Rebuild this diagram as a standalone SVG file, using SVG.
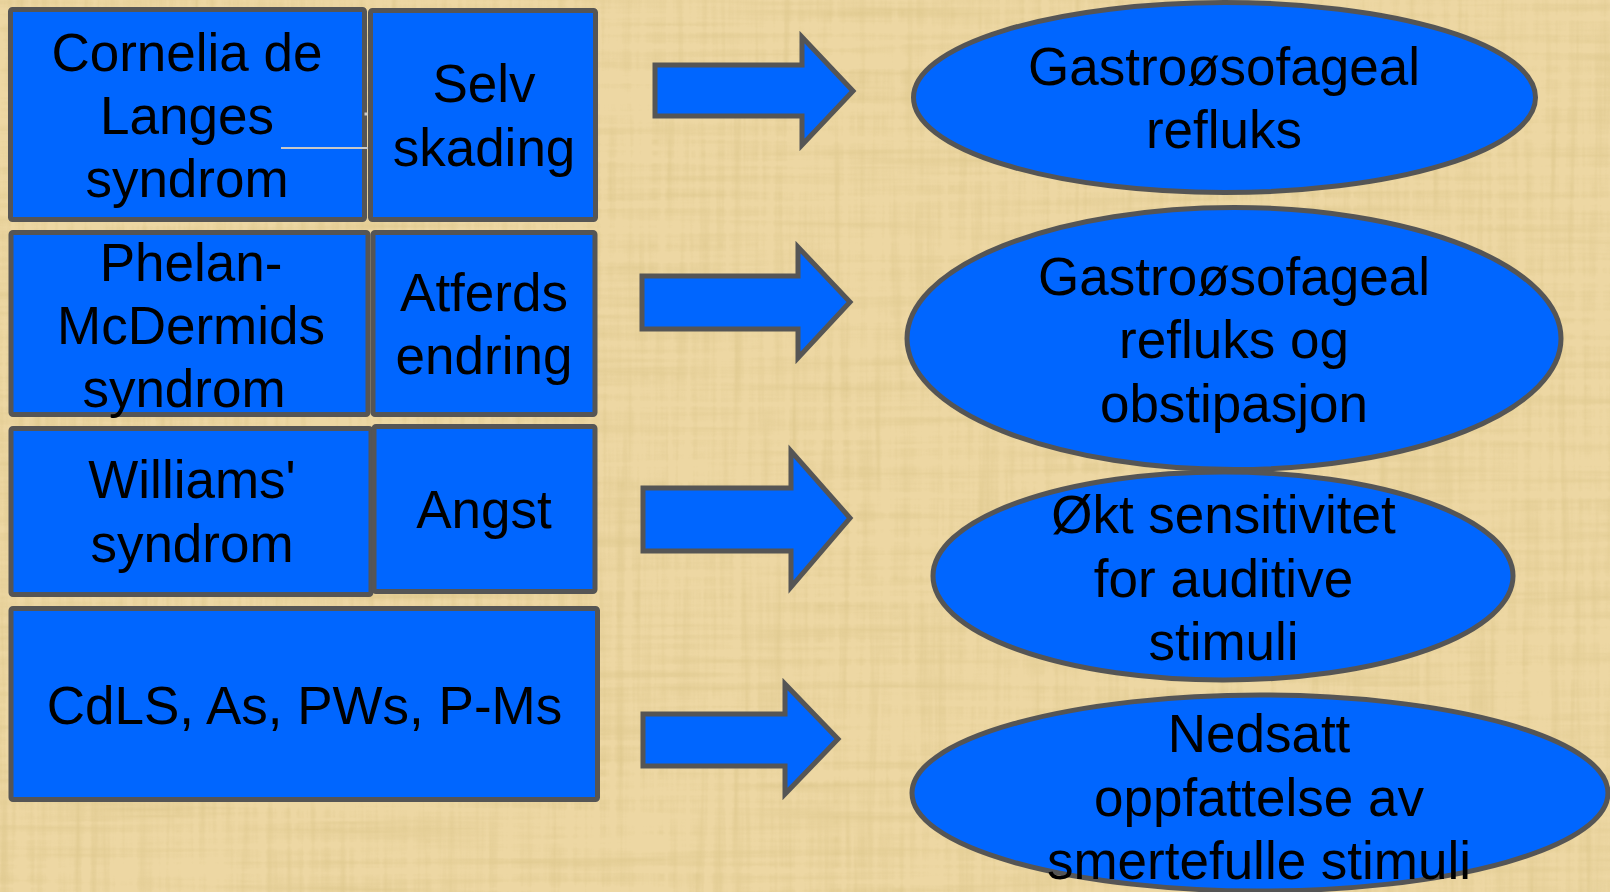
<svg xmlns="http://www.w3.org/2000/svg" width="1610" height="892" viewBox="0 0 1610 892">
<defs>
<style>
.box{fill:#0066ff;stroke:#555555;stroke-width:5;stroke-linejoin:round}
.ell{fill:#0066ff;stroke:#555555;stroke-width:5}
.arr{fill:#0066ff;stroke:#555555;stroke-width:5;stroke-linejoin:miter}
text{font-family:"Liberation Sans",Arial,sans-serif;font-size:53px;fill:#000000;text-anchor:middle}
</style>
<filter id="paper" x="0" y="0" width="1610" height="892" filterUnits="userSpaceOnUse">
<feTurbulence type="fractalNoise" baseFrequency="0.12 0.005" numOctaves="3" seed="4" result="v"/>
<feTurbulence type="fractalNoise" baseFrequency="0.004 0.12" numOctaves="3" seed="9" result="h"/>
<feBlend in="v" in2="h" mode="multiply" result="n"/>
<feColorMatrix in="n" type="matrix" values="0 0 0 0 0.64  0 0 0 0 0.50  0 0 0 0 0.20  -2 0 0 0 1.0"/>
</filter>
</defs>
<g id="background">
<rect x="0" y="0" width="1610" height="892" fill="#edd7a3"/>
<rect x="0" y="0" width="1610" height="892" fill="#000" filter="url(#paper)" opacity="0.6"/>
</g>
<g id="connectors">
<polygon class="arr" points="655,65 802,65 802,37 853,91 802,145 802,116 655,116"/>
<polygon class="arr" points="642,276 798,276 798,247 850,302 798,358 798,329 642,329"/>
<polygon class="arr" points="643,488 791,488 791,451 850,518 791,587 791,551 643,551"/>
<polygon class="arr" points="643,714 785,714 785,684 838,739 785,794 785,766 643,766"/>
</g>
<g id="box-cdls">
<rect class="box" x="10.5" y="9.5" width="354" height="210" rx="2"/>
<text x="187" y="71">Cornelia de</text>
<text x="187" y="134">Langes</text>
<text x="187" y="197">syndrom</text>
<line x1="281" y1="148" x2="368" y2="148" stroke="#c8c8c8" stroke-width="2"/>
<rect x="364.5" y="112.5" width="3" height="3" fill="#c8c8c8"/>
</g>
<g id="box-selvskading">
<rect class="box" x="370.5" y="10.5" width="225" height="209" rx="2"/>
<text x="484" y="102">Selv</text>
<text x="484" y="166">skading</text>
</g>
<g id="box-pms">
<rect class="box" x="11" y="232.5" width="357" height="182" rx="2"/>
<text x="191" y="281">Phelan-</text>
<text x="191" y="344">McDermids</text>
<text x="184" y="407">syndrom</text>
</g>
<g id="box-atferd">
<rect class="box" x="373" y="232.5" width="222" height="182" rx="2"/>
<text x="484" y="311">Atferds</text>
<text x="484" y="374">endring</text>
</g>
<g id="box-williams">
<rect class="box" x="11" y="428.5" width="360" height="166" rx="2"/>
<text x="192" y="498">Williams'</text>
<text x="192" y="562">syndrom</text>
</g>
<g id="box-angst">
<rect class="box" x="374" y="426.5" width="221" height="165" rx="2"/>
<text x="484" y="528">Angst</text>
</g>
<g id="box-all">
<rect class="box" x="11" y="608.5" width="586.5" height="191" rx="2"/>
<text x="304.5" y="724">CdLS, As, PWs, P-Ms</text>
</g>
<g id="ell-reflux">
<ellipse class="ell" cx="1224.5" cy="97.5" rx="311" ry="95"/>
<text x="1224" y="85">Gastroøsofageal</text>
<text x="1224" y="148">refluks</text>
</g>
<g id="ell-reflux-obstipation">
<ellipse class="ell" cx="1234" cy="338.5" rx="327" ry="131"/>
<text x="1234" y="295">Gastroøsofageal</text>
<text x="1234" y="358">refluks og</text>
<text x="1234" y="422">obstipasjon</text>
</g>
<g id="ell-auditive">
<ellipse class="ell" cx="1223" cy="576" rx="290" ry="104"/>
<text x="1223.5" y="533">Økt sensitivitet</text>
<text x="1223.5" y="597">for auditive</text>
<text x="1223.5" y="660">stimuli</text>
</g>
<g id="ell-pain">
<ellipse class="ell" cx="1260" cy="793" rx="348" ry="98"/>
<text x="1259" y="752">Nedsatt</text>
<text x="1259" y="816">oppfattelse av</text>
<text x="1259" y="879">smertefulle stimuli</text>
</g>
</svg>
